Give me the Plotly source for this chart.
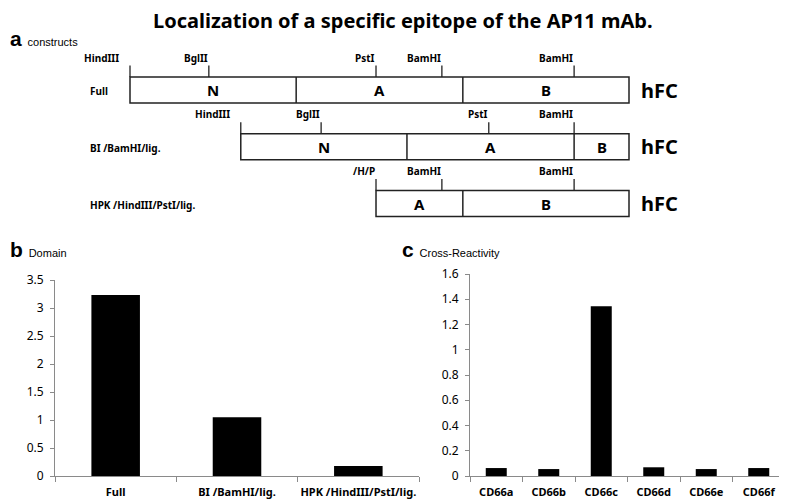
import plotly.graph_objects as go

# ---- panel b: domain mapping ----
domain_labels = ["Full", "BI /BamHI/lig.", "HPK /HindIII/PstI/lig."]
domain_values = [3.23, 1.05, 0.18]

# ---- panel c: cross-reactivity ----
cross_labels = ["CD66a", "CD66b", "CD66c", "CD66d", "CD66e", "CD66f"]
cross_values = [0.063, 0.055, 1.344, 0.069, 0.055, 0.063]

# ---- panel a: constructs (positions on the Full-length scale, 0-100) ----
row_names = ["Full", "BI /BamHI/lig.", "HPK /HindIII/PstI/lig."]
row_bounds = [[0, 33.3, 66.7, 100], [22.2, 55.5, 89.0, 100], [49.3, 66.7, 100]]
row_domains = [["N", "A", "B"], ["N", "A", "B"], ["A", "B"]]
row_sites = [[0, 15.8, 49.3, 62.5, 89.0], [22.2, 38.3, 71.9, 89.0], [49.3, 62.5, 89.0]]
row_site_names = [["HindIII", "BglII", "PstI", "BamHI", "BamHI"],
                  ["HindIII", "BglII", "PstI", "BamHI"],
                  ["/H/P", "BamHI", "BamHI"]]

# the page body has an 8px margin, so the figure is shrunk to fit the window
PAGE_W, PAGE_H, OFF = 787, 502, 8
W, H = PAGE_W - OFF, PAGE_H - OFF
FONT = "Noto Sans"
BOX = 0.23      # half box height (row units)
TICK = 0.2      # site tick height above box


def px(x):   # window pixel -> paper x
    return (x - OFF) / W


def py(y):   # window pixel -> paper y
    return 1 - (y - OFF) / H


fig = go.Figure()

fig.add_trace(go.Bar(x=domain_labels, y=domain_values, marker_color="black",
                     marker_line_width=0, xaxis="x", yaxis="y", showlegend=False))
fig.add_trace(go.Bar(x=cross_labels, y=cross_values, marker_color="black",
                     marker_line_width=0, xaxis="x2", yaxis="y2", showlegend=False))

# construct diagram: site ticks as line segments
sx, sy = [], []
for i, sites in enumerate(row_sites):
    for s in sites:
        sx += [s, s, None]
        sy += [i - BOX, i - BOX - TICK, None]
fig.add_trace(go.Scatter(x=sx, y=sy, mode="lines", line=dict(color="#222", width=1.3),
                         xaxis="x3", yaxis="y3", showlegend=False, hoverinfo="skip"))

shapes = []
annotations = []
for i, bounds in enumerate(row_bounds):
    shapes.append(dict(type="rect", xref="x3", yref="y3", x0=bounds[0], x1=bounds[-1],
                       y0=i - BOX, y1=i + BOX, line=dict(color="#222", width=1.5)))
    for b in bounds[1:-1]:
        shapes.append(dict(type="line", xref="x3", yref="y3", x0=b, x1=b,
                           y0=i - BOX, y1=i + BOX, line=dict(color="#222", width=1.5)))
    for j, name in enumerate(row_domains[i]):
        annotations.append(dict(xref="x3", yref="y3", x=(bounds[j] + bounds[j + 1]) / 2, y=i,
                                xanchor="center", yanchor="middle",
                                text="<b>%s</b>" % name, showarrow=False,
                                font=dict(family=FONT, size=15, color="black")))
    annotations.append(dict(xref="x3", yref="y3", x=bounds[-1], y=i, xanchor="left",
                            yanchor="middle", xshift=10, text="<b>hFC</b>", showarrow=False,
                            font=dict(family=FONT, size=20, color="black")))
    annotations.append(dict(xref="x3", yref="y3", x=0, y=i + 0.02, xanchor="left", xshift=-42,
                            yanchor="middle", text="<b>%s</b>" % row_names[i], showarrow=False,
                            font=dict(family=FONT, size=10, color="black")))
    for s, name in zip(row_sites[i], row_site_names[i]):
        shift = 1
        if name == "HindIII":
            shift = -9
        annotations.append(dict(xref="x3", yref="y3", x=s, y=i - BOX - TICK,
                                xanchor="right", yanchor="bottom", xshift=shift, yshift=-1,
                                text="<b>%s</b>" % name, showarrow=False,
                                font=dict(family=FONT, size=10, color="black")))

# title and panel labels
annotations += [
    dict(xref="paper", yref="paper", x=px(403), y=py(21), xanchor="center", yanchor="middle",
         borderpad=0, text="<b>Localization of a specific epitope of the AP11 mAb.</b>",
         showarrow=False, font=dict(family=FONT, size=20, color="black")),
    dict(xref="paper", yref="paper", x=px(OFF), y=py(39), xanchor="left", yanchor="middle",
         text="<b>a</b> <span style='font-size:11px'>constructs</span>",
         showarrow=False, font=dict(family="Liberation Sans", size=21, color="black")),
    dict(xref="paper", yref="paper", x=px(OFF), y=py(249), xanchor="left", yanchor="middle",
         text="<b>b</b> <span style='font-size:11px'>Domain</span>",
         showarrow=False, font=dict(family="Liberation Sans", size=21, color="black")),
    dict(xref="paper", yref="paper", x=px(400), y=py(249), xanchor="left", yanchor="middle",
         text="<b>c</b> <span style='font-size:11px'>Cross-Reactivity</span>",
         showarrow=False, font=dict(family="Liberation Sans", size=21, color="black")),
]

axis_grey = "#8a8a8a"
common_x = dict(showline=True, linecolor=axis_grey, linewidth=1, ticks="outside",
                tickson="boundaries", ticklen=5, tickcolor=axis_grey, showgrid=False,
                tickfont=dict(family=FONT, size=11, color="black"), ticklabelstandoff=6,
                tickangle=0, automargin=False, fixedrange=True)
common_y = dict(showline=True, linecolor=axis_grey, linewidth=1, ticks="outside",
                ticklen=4, tickcolor=axis_grey, showgrid=False, zeroline=False,
                tickfont=dict(family=FONT, size=12, color="black"), ticklabelstandoff=4,
                automargin=False, fixedrange=True)

# diagram scale: 0 -> x=130 px, 100 -> x=629 px; row 0 at y=90 px, rows 56.75 px apart
ux = (629 - 130) / 100
uy = 56.75

fig.update_layout(
    width=W, height=H, margin=dict(l=0, r=0, t=0, b=0, autoexpand=False),
    paper_bgcolor="white", plot_bgcolor="rgba(0,0,0,0)",
    bargap=0.6, showlegend=False,
    xaxis=dict(domain=[px(55), px(419)], anchor="y",
               tickvals=domain_labels,
               ticktext=["<b>%s</b>" % t for t in domain_labels], **common_x),
    yaxis=dict(domain=[py(476), py(280)], anchor="x", range=[0, 3.5], dtick=0.5, **common_y),
    xaxis2=dict(domain=[px(470), px(785)], anchor="y2",
                tickvals=cross_labels,
                ticktext=["<b>%s</b>" % t for t in cross_labels], **common_x),
    yaxis2=dict(domain=[py(476), py(274)], anchor="x2", range=[0, 1.6], dtick=0.2, **common_y),
    xaxis3=dict(domain=[0, 1], anchor="y3", range=[-(130 - OFF) / ux, (PAGE_W - 130) / ux],
                visible=False, fixedrange=True),
    yaxis3=dict(domain=[0, 1], anchor="x3", range=[(PAGE_H - 90) / uy, -(90 - OFF) / uy],
                visible=False, fixedrange=True),
    shapes=shapes, annotations=annotations,
)

fig.write_html("out.html")
